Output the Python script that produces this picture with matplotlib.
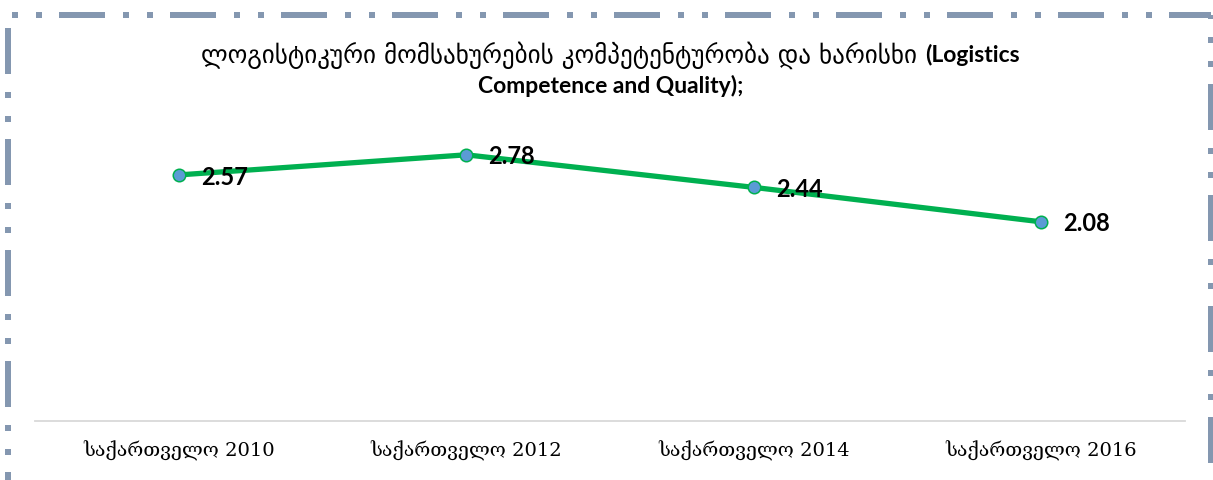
import matplotlib
matplotlib.use("Agg")
import matplotlib.pyplot as plt
from matplotlib.lines import Line2D

plt.rcParams["lines.scale_dashes"] = False

# values per survey year
categories = ["საქართველო 2010", "საქართველო 2012", "საქართველო 2014", "საქართველო 2016"]
scores = [2.57, 2.78, 2.44, 2.08]

title_geo = "ლოგისტიკური მომსახურების კომპეტენტურობა და ხარისხი "
title_en_1 = "(Logistics"
title_en_2 = "Competence and Quality);"

W, H = 1213, 480
fig = plt.figure(figsize=(W / 100, H / 100), dpi=100)
fig.patch.set_facecolor("white")

ax = fig.add_axes([35 / W, 1 - 421 / H, (1185 - 35) / W, (421 - 38) / H])
x = range(len(categories))
ax.plot(x, scores, color="#00b050", lw=3.8, solid_capstyle="round",
        marker="o", ms=9, mfc="#5b9bd5", mec="#00b050", mew=1.1, zorder=3)
for i, v in enumerate(scores):
    ax.annotate(f"{v:.2f}", (i, v), xytext=(16, -1.5), textcoords="offset points",
                ha="left", va="center", fontsize=17, fontweight="bold",
                family=["Lato", "DejaVu Sans"], color="black")

ax.set_xlim(-0.5, len(categories) - 0.5)
ax.set_ylim(0, 4)
ax.set_xticks(list(x))
ax.set_xticklabels(categories, family=["DejaVu Serif", "DejaVu Sans"], fontsize=14)
ax.tick_params(axis="x", length=0, pad=14)
ax.set_yticks([])
for s in ["top", "left", "right"]:
    ax.spines[s].set_visible(False)
ax.spines["bottom"].set_color("#d9d9d9")
ax.spines["bottom"].set_linewidth(1.3)
ax.patch.set_alpha(0)

# two-part title: Georgian text regular, English bold
renderer = fig.canvas.get_renderer()
t1 = fig.text(0, 1 - 55 / H, title_geo, ha="left", va="center", fontsize=18,
              family=["DejaVu Sans"])
t2 = fig.text(0, 1 - 55 / H, title_en_1, ha="left", va="center", fontsize=16.5,
              fontweight="bold", family=["Lato", "DejaVu Sans"])
w1 = t1.get_window_extent(renderer).width
w2 = t2.get_window_extent(renderer).width
x0 = 610 - (w1 + w2) / 2
t1.set_x(x0 / W)
t2.set_x((x0 + w1) / W)
fig.text(611 / W, 1 - 86 / H, title_en_2, ha="center", va="center", fontsize=16.5,
         fontweight="bold", family=["Lato", "DejaVu Sans"])

# dash-dot-dot frame around the chart (lengths in pixels -> points)
px = 0.72
pattern = [46 * px, 18 * px, 6 * px, 18 * px, 6 * px, 17 * px]
frame = "#8497b0"
def edge(xs, ys, offset, color=frame):
    ln = Line2D([v / W for v in xs], [1 - v / H for v in ys], transform=fig.transFigure,
                color=color, lw=6 * px, dash_capstyle="butt",
                linestyle=(offset * px, pattern))
    fig.add_artist(ln)

edge([8, 1211], [15, 15], 60)
edge([8, 8], [15, 482], 98)
edge([1211, 1211], [15, 482], 42)
edge([8, 1211], [481, 481], 60, color="#e4e8ee")

fig.savefig("out.png", dpi=100, facecolor="white")
